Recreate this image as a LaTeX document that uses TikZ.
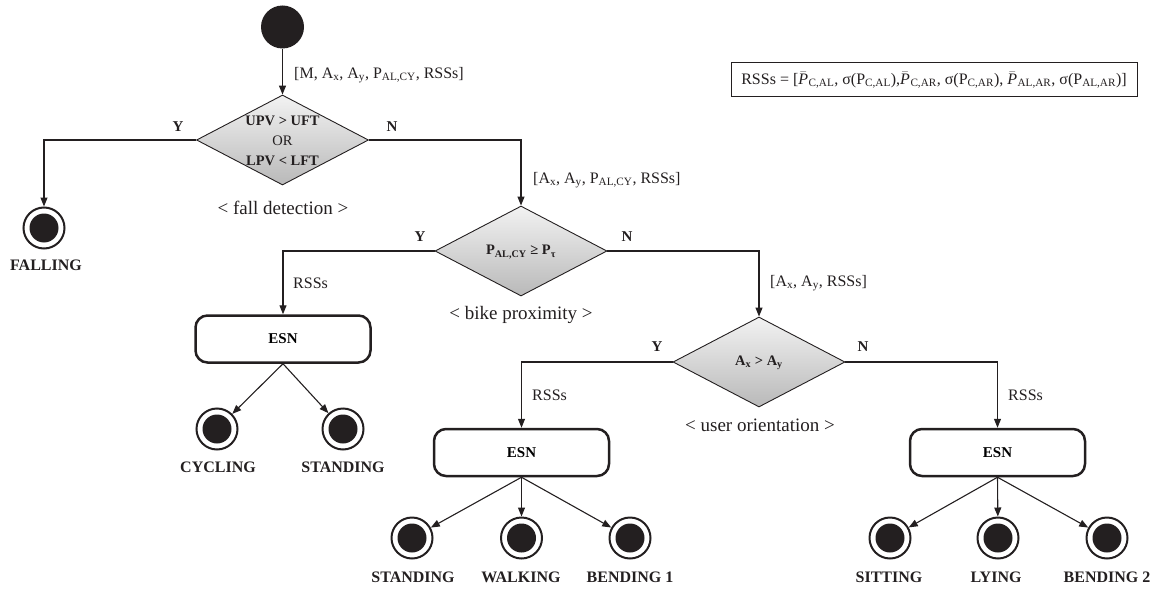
\documentclass[tikz,border=0pt]{standalone}
\usepackage{fontspec}
\setmainfont{Liberation Serif}
\usetikzlibrary{shapes.geometric,arrows.meta}
\definecolor{ink}{RGB}{35,31,32}
\newcommand\pbar{$\bar{\mbox{\itshape P\/}}$\kern0.5pt}
\begin{document}
\begin{tikzpicture}[x=1pt,y=-1pt,
  conn/.style={draw=ink, line width=1.1pt},
  arr/.style={conn, -{Triangle[length=9pt,width=7pt]}},
  dec/.style={diamond, draw=ink, line width=0.9pt, top color=gray!10, bottom color=gray!55,
    minimum width=172pt, minimum height=90pt, inner sep=0pt},
  esnbox/.style={rectangle, rounded corners=12pt, draw=ink, line width=2.5pt,
    minimum width=175pt, minimum height=47pt, font=\bfseries\fontsize{15}{18}\selectfont},
  fin/.style={circle, draw=ink, line width=2pt, minimum size=41pt, inner sep=0pt,
    path picture={\fill[ink] (path picture bounding box.center) circle (14.5pt);}},
  init/.style={circle, fill=ink, minimum size=43pt, inner sep=0pt},
  blab/.style={font=\bfseries\fontsize{16}{19}\selectfont, inner sep=0pt, text=ink},
  yn/.style={font=\bfseries\fontsize{15}{18}\selectfont, inner sep=0pt, text=ink},
  dlab/.style={font=\fontsize{16}{19}\selectfont, anchor=west, inner sep=0pt, text=ink},
  note/.style={font=\fontsize{19}{22}\selectfont, inner sep=0pt, text=ink},
  dtxt/.style={font=\fontsize{14.5}{20}\selectfont, align=center, inner sep=0pt, text=ink}
]
\useasboundingbox (0,0) rectangle (1158,591);

% legend box
\node[draw=ink, line width=1pt, minimum width=406pt, minimum height=34pt, inner sep=0pt,
  font=\fontsize{16}{19}\selectfont, text=ink] (legend) at (934,80)
  {RSSs = [\pbar\textsubscript{C,AL}, σ(P\textsubscript{C,AL}),\pbar\textsubscript{C,AR}, σ(P\textsubscript{C,AR}), \pbar\textsubscript{AL,AR}, σ(P\textsubscript{AL,AR})]};

% start
\node[init] (start) at (282.5,27) {};

% decision 1
\node[dec] (d1) at (282.5,140) {};
\node[dtxt] (d1t) at (282.5,141) {\textbf{UPV > UFT}\\OR\\\textbf{LPV < LFT}};
\node[note] (n1) at (283,208) {< fall detection >};
\node[yn] (y1) at (178,127) {Y};
\node[yn] (nn1) at (392,127) {N};
\node[dlab] (l0) at (294,75) {[M, A\textsubscript{x}, A\textsubscript{y}, P\textsubscript{AL,CY}, RSSs]};

% falling
\node[fin] (fall) at (44,228) {};
\node[blab] (lfall) at (46,265) {FALLING};

% decision 2
\node[dec] (d2) at (521,251) {};
\node[dtxt] (d2t) at (521,252) {\textbf{P\textsubscript{AL,CY} ≥ P\textsubscript{τ}}};
\node[note] (n2) at (521,315) {< bike proximity >};
\node[yn] (y2) at (420,237) {Y};
\node[yn] (nn2) at (627,237) {N};
\node[dlab] (l1) at (533,180) {[A\textsubscript{x}, A\textsubscript{y}, P\textsubscript{AL,CY}, RSSs]};

% ESN 1
\node[esnbox] (e1) at (283,339) {ESN};
\node[dlab] (r1) at (293,283) {RSSs};
\node[fin] (cyc) at (217,429) {};
\node[fin] (st1) at (343,429) {};
\node[blab] (lcyc) at (218,467) {CYCLING};
\node[blab] (lst1) at (343,467) {STANDING};

% decision 3
\node[dec] (d3) at (759,362) {};
\node[dtxt] (d3t) at (759,363) {\textbf{A\textsubscript{x} > A\textsubscript{y}}};
\node[note] (n3) at (760,425) {< user orientation >};
\node[yn] (y3) at (657,347) {Y};
\node[yn] (nn3) at (863,347) {N};
\node[dlab] (l2) at (770,283) {[A\textsubscript{x}, A\textsubscript{y}, RSSs]};

% ESN 2
\node[esnbox] (e2) at (521.5,452.5) {ESN};
\node[dlab] (r2) at (532,395) {RSSs};
\node[fin] (st2) at (412,538) {};
\node[fin] (walk) at (521.5,538) {};
\node[fin] (bend1) at (630,538) {};
\node[blab] (lst2) at (413,577) {STANDING};
\node[blab] (lwalk) at (521,577) {WALKING};
\node[blab] (lbend1) at (630,577) {BENDING 1};

% ESN 3
\node[esnbox] (e3) at (997.5,452.5) {ESN};
\node[dlab] (r3) at (1008,395) {RSSs};
\node[fin] (sit) at (890,538) {};
\node[fin] (lying) at (998,538) {};
\node[fin] (bend2) at (1107,538) {};
\node[blab] (lsit) at (889,577) {SITTING};
\node[blab] (llying) at (996,577) {LYING};
\node[blab] (lbend2) at (1107,577) {BENDING 2};

% connectors
\draw[arr] (start) -- (d1.north);
\draw[arr] (d1.west) -| (fall.north);
\draw[arr] (d1.east) -| (d2.north);
\draw[arr] (d2.west) -| (e1.north);
\draw[arr] (d2.east) -| (d3.north);
\draw[arr] (d3.west) -| (e2.north);
\draw[arr] (d3.east) -| (e3.north);
\draw[arr] (e1.south) -- (cyc);
\draw[arr] (e1.south) -- (st1);
\draw[arr] (e2.south) -- (st2);
\draw[arr] (e2.south) -- (walk);
\draw[arr] (e2.south) -- (bend1);
\draw[arr] (e3.south) -- (sit);
\draw[arr] (e3.south) -- (lying);
\draw[arr] (e3.south) -- (bend2);
\end{tikzpicture}
\end{document}
